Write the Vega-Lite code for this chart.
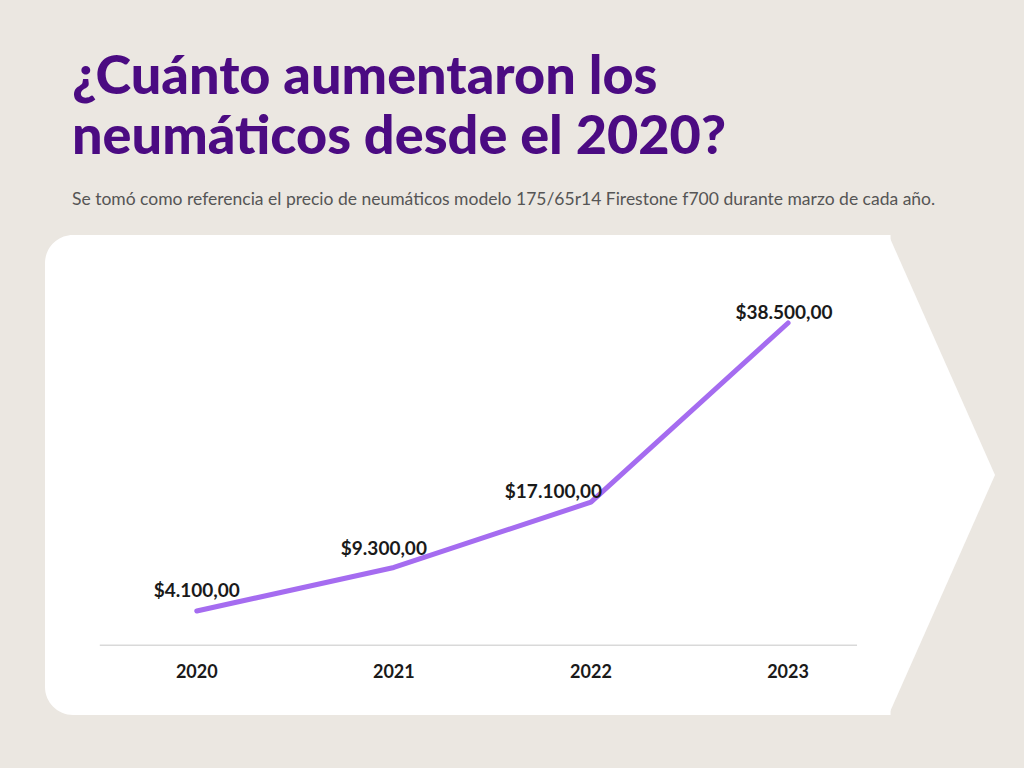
{
  "$schema": "https://vega.github.io/schema/vega-lite/v6.json",
  "width": 950,
  "height": 480,
  "autosize": {"type": "none"},
  "padding": {"left": 45, "top": 235, "right": 29, "bottom": 53},
  "background": "#ebe7e1",
  "config": {
    "view": {"stroke": null, "fill": null},
    "locale": {"number": {"decimal": ",", "thousands": ".", "grouping": [3], "currency": ["$", ""]}}
  },
  "title": {
    "text": ["¿Cuánto aumentaron los", "neumáticos desde el 2020?"],
    "subtitle": "Se tomó como referencia el precio de neumáticos modelo 175/65r14 Firestone f700 durante marzo de cada año.",
    "anchor": "start",
    "frame": "group",
    "dx": 27,
    "offset": 27,
    "font": "Lato",
    "fontSize": 54,
    "fontWeight": 900,
    "lineHeight": 60,
    "color": "#4b0b82",
    "subtitleFont": "Lato",
    "subtitleFontSize": 17.5,
    "subtitleColor": "#555555",
    "subtitlePadding": 26
  },
  "datasets": {
    "prices": [
      {"year": 2020, "price": 4100},
      {"year": 2021, "price": 9300},
      {"year": 2022, "price": 17100},
      {"year": 2023, "price": 38500}
    ],
    "panel": [{"x": 2019.23, "x2": 2023.52, "y": 49010, "y2": -8325}],
    "arrow": [
      {"x": 2023.51, "top": 49010, "bottom": -8325},
      {"x": 2024.05, "top": 20341, "bottom": 20341}
    ],
    "baseline": [{"x": 2019.508, "x2": 2023.35, "y": 0}]
  },
  "layer": [
    {
      "data": {"name": "panel"},
      "mark": {"type": "rect", "fill": "#ffffff", "cornerRadiusTopLeft": 28, "cornerRadiusBottomLeft": 28},
      "encoding": {
        "x": {"field": "x", "type": "quantitative", "scale": {"domain": [2019.23, 2024.05], "nice": false, "zero": false}, "axis": null},
        "x2": {"field": "x2"},
        "y": {"field": "y", "type": "quantitative", "scale": {"domain": [-8325, 49010], "nice": false, "zero": false}, "axis": null},
        "y2": {"field": "y2"}
      }
    },
    {
      "data": {"name": "arrow"},
      "mark": {"type": "area", "fill": "#ffffff", "orient": "vertical"},
      "encoding": {
        "x": {"field": "x", "type": "quantitative"},
        "y": {"field": "top", "type": "quantitative"},
        "y2": {"field": "bottom"}
      }
    },
    {
      "data": {"name": "baseline"},
      "mark": {"type": "rule", "color": "#d9d9d9", "strokeWidth": 1.5},
      "encoding": {
        "x": {"field": "x", "type": "quantitative"},
        "x2": {"field": "x2"},
        "y": {"field": "y", "type": "quantitative"}
      }
    },
    {
      "data": {"name": "prices"},
      "mark": {"type": "line", "color": "#a56cf0", "strokeWidth": 5, "strokeCap": "round", "strokeJoin": "round"},
      "encoding": {
        "x": {"field": "year", "type": "quantitative"},
        "y": {"field": "price", "type": "quantitative"}
      }
    },
    {
      "data": {"name": "prices"},
      "mark": {"type": "text", "font": "Lato", "fontSize": 18, "fontWeight": "bold", "color": "#1a1a1a", "baseline": "middle"},
      "encoding": {
        "x": {"field": "year", "type": "quantitative"},
        "y": {"datum": -3309, "type": "quantitative"},
        "text": {"field": "year", "type": "quantitative", "format": "d"}
      }
    },
    {
      "data": {"name": "prices"},
      "transform": [{"filter": "datum.year == 2020"}],
      "mark": {"type": "text", "font": "Lato", "fontSize": 19, "fontWeight": "bold", "color": "#1a1a1a", "baseline": "middle", "align": "center", "dy": -20},
      "encoding": {
        "x": {"field": "year", "type": "quantitative"},
        "y": {"field": "price", "type": "quantitative"},
        "text": {"field": "price", "type": "quantitative", "format": "$,.2f"}
      }
    },
    {
      "data": {"name": "prices"},
      "transform": [{"filter": "datum.year == 2021"}],
      "mark": {"type": "text", "font": "Lato", "fontSize": 19, "fontWeight": "bold", "color": "#1a1a1a", "baseline": "middle", "align": "center", "dx": -10, "dy": -18},
      "encoding": {
        "x": {"field": "year", "type": "quantitative"},
        "y": {"field": "price", "type": "quantitative"},
        "text": {"field": "price", "type": "quantitative", "format": "$,.2f"}
      }
    },
    {
      "data": {"name": "prices"},
      "transform": [{"filter": "datum.year == 2022"}],
      "mark": {"type": "text", "font": "Lato", "fontSize": 19, "fontWeight": "bold", "color": "#1a1a1a", "baseline": "middle", "align": "right", "dx": 11, "dy": -10},
      "encoding": {
        "x": {"field": "year", "type": "quantitative"},
        "y": {"field": "price", "type": "quantitative"},
        "text": {"field": "price", "type": "quantitative", "format": "$,.2f"}
      }
    },
    {
      "data": {"name": "prices"},
      "transform": [{"filter": "datum.year == 2023"}],
      "mark": {"type": "text", "font": "Lato", "fontSize": 19, "fontWeight": "bold", "color": "#1a1a1a", "baseline": "middle", "align": "center", "dx": -4, "dy": -10},
      "encoding": {
        "x": {"field": "year", "type": "quantitative"},
        "y": {"field": "price", "type": "quantitative"},
        "text": {"field": "price", "type": "quantitative", "format": "$,.2f"}
      }
    }
  ]
}
